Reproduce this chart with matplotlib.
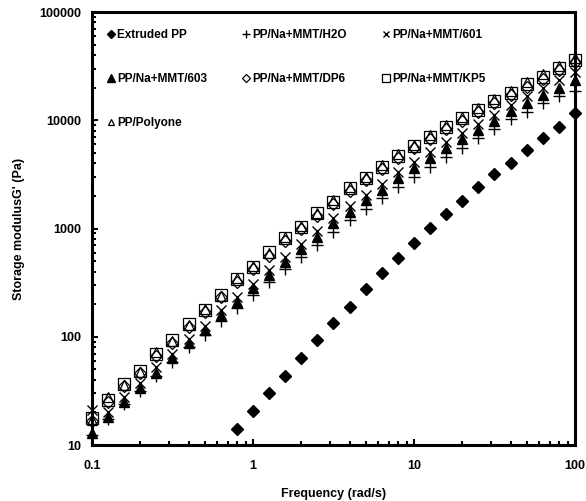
import numpy as np
import matplotlib
matplotlib.use("Agg")
import matplotlib.pyplot as plt

plt.rcParams['font.family'] = ['Liberation Sans', 'DejaVu Sans']
plt.rcParams['font.weight'] = 'bold'

# Frequency (rad/s)
freq = [0.1, 0.126, 0.158, 0.2, 0.251, 0.316, 0.398, 0.501, 0.631, 0.794,
        1.0, 1.26, 1.58, 2.0, 2.51, 3.16, 3.98, 5.01, 6.31, 7.94,
        10.0, 12.6, 15.8, 20.0, 25.1, 31.6, 39.8, 50.1, 63.1, 79.4, 100.0]
freq_pp = freq[9:]

extruded_pp = [14.0, 20.8, 30.1, 43.8, 63.4, 93.5, 135, 190, 275, 387, 532,
               731, 1007, 1356, 1810, 2407, 3170, 4060, 5320, 6820, 8730, 11600]

kp5 = [17.7, 26, 36.7, 48.7, 69.5, 93.6, 131, 177, 244, 340, 445, 612, 813,
       1042, 1385, 1770, 2356, 2950, 3730, 4680, 5790, 7060, 8730, 10400,
       12400, 15200, 18000, 21500, 25300, 30200, 36000]
polyone = [17.0, 27.5, 35.5, 47.5, 72, 92, 128, 180, 240, 350, 450, 600, 830,
           1060, 1400, 1820, 2400, 3000, 3850, 4850, 5950, 7300, 9000, 10800,
           12900, 15800, 18800, 22500, 26500, 31500, 37500]
dp6 = [16.5, 25, 35, 46, 66, 88, 124, 168, 232, 320, 420, 560, 770,
       990, 1310, 1680, 2230, 2800, 3550, 4450, 5500, 6700, 8300, 9900,
       11800, 14500, 17200, 20500, 24200, 29000, 34500]
mmt603 = [12.9, 18.3, 25.2, 33.5, 46.7, 63.4, 87.3, 116, 159, 211, 281, 373,
          495, 644, 842, 1120, 1430, 1840, 2270, 2910, 3600, 4460, 5510, 6720,
          8130, 9910, 12200, 14400, 17100, 19700, 23600]
mmt601 = [21, 20, 28, 37, 52, 70, 95, 127, 175, 235, 310, 415, 550, 720, 940,
          1240, 1600, 2050, 2600, 3300, 4100, 5100, 6300, 7700, 9300, 11300,
          13900, 16700, 19800, 23300, 28000]
h2o = [12.5, 17.5, 24, 31.5, 43, 58, 80, 104, 140, 185, 245, 320, 420, 545,
       710, 930, 1190, 1520, 1900, 2420, 3000, 3700, 4600, 5600, 6800, 8300,
       10200, 12000, 14400, 16700, 18600]

labels = ["Extruded PP", "PP/Na+MMT/H2O", "PP/Na+MMT/601", "PP/Na+MMT/603",
          "PP/Na+MMT/DP6", "PP/Na+MMT/KP5", "PP/Polyone"]

fig = plt.figure(figsize=(5.86, 5.01), dpi=100)
ax = fig.add_axes([92/586, 56/501, (575-92)/586, (445-12)/501])

kw = dict(linestyle='none', clip_on=False)
h_ext, = ax.plot(freq_pp, extruded_pp, marker='D', color='black', ms=6, **kw)
h_h2o, = ax.plot(freq, h2o, marker='+', color='black', ms=9, mew=1.0, **kw)
h_601, = ax.plot(freq, mmt601, marker='x', color='black', ms=7, mew=1.0, **kw)
h_603, = ax.plot(freq, mmt603, marker='^', color='black', ms=7.5, **kw)
h_dp6, = ax.plot(freq, dp6, marker='D', mfc='white', mec='black', color='black', ms=6, mew=0.9, **kw)
h_kp5, = ax.plot(freq, kp5, marker='s', mfc='none', mec='black', color='black', ms=8, mew=0.9, **kw)
h_poly, = ax.plot(freq, polyone, marker='^', mfc='none', mec='black', color='black', ms=7, mew=0.9, **kw)

ax.set_xscale('log')
ax.set_yscale('log')
ax.set_xlim(0.1, 100)
ax.set_ylim(10, 100000)

ax.set_xticks([0.1, 1, 10, 100])
ax.set_xticklabels(["0.1", "1", "10", "100"])
ax.set_yticks([10, 100, 1000, 10000, 100000])
ax.set_yticklabels(["10", "100", "1000", "10000", "100000"])

for s in ax.spines.values():
    s.set_linewidth(2.2)
ax.tick_params(which='both', direction='in', top=False, right=False,
               width=1.5, labelsize=9, colors='black')
ax.tick_params(which='major', length=4)
ax.tick_params(axis='x', which='major', pad=11)
ax.tick_params(axis='y', which='major', pad=8)
ax.tick_params(which='minor', length=3)
for t in ax.get_xticklabels() + ax.get_yticklabels():
    t.set_fontweight('bold')

ax.set_xlabel("Frequency (rad/s)", fontsize=9, fontweight='bold', labelpad=11)
ax.set_ylabel("Storage modulusG' (Pa)", fontsize=9, fontweight='bold', labelpad=10)

handles = [h_ext, h_603, h_poly, h_h2o, h_dp6, h_601, h_kp5]
leg_labels = [labels[0], labels[3], labels[6], labels[1], labels[4], labels[2], labels[5]]
leg = ax.legend(handles, leg_labels, ncol=3, loc='upper left',
                bbox_to_anchor=(0.01, 0.985), frameon=False,
                handlelength=0.6, handletextpad=0.2, columnspacing=3.05,
                labelspacing=2.7, markerscale=0.7,
                prop={'size': 8.5, 'weight': 'bold'}, borderpad=0.4)

fig.savefig("out.png", dpi=100)
